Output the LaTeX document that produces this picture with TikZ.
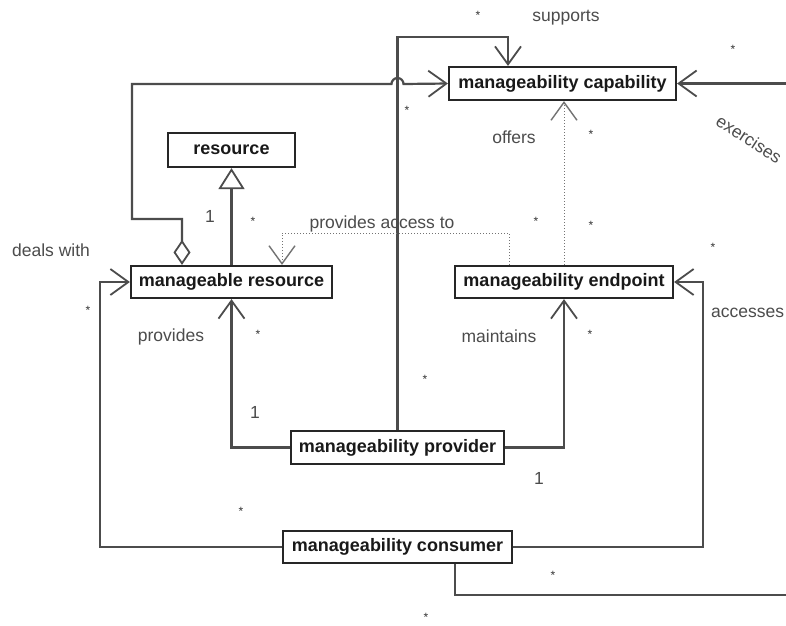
\documentclass[tikz,border=0pt]{standalone}
\usepackage{fontspec}
\setmainfont{Liberation Sans}
\usetikzlibrary{arrows.meta}
\begin{document}
\begin{tikzpicture}[x=1pt,y=-1pt,
  cls/.style={draw=black!85, line width=2.2pt, fill=white, inner sep=0pt,
    font=\fontsize{18}{21}\selectfont\bfseries, text=black!90},
  lbl/.style={font=\fontsize{17.5}{20}\selectfont, text=black!70, inner sep=0pt},
  mult/.style={font=\fontsize{12}{13}\selectfont, text=black!80, inner sep=0pt},
  conn/.style={draw=black!70, line width=2.2pt},
  dots/.style={draw=black!55, line width=1pt, dotted},
  vee/.style={-{Straight Barb[length=18pt,width=26pt,line width=1.8pt]}},
]
\useasboundingbox (0,0) rectangle (786,625);
\fill[white] (0,0) rectangle (786,625);
\clip (0,0) rectangle (786,625);

% classes
\node[cls, minimum width=227pt, minimum height=33pt] (cap) at (562.5,83.5) {manageability capability};
\node[cls, minimum width=127pt, minimum height=34pt] (res) at (231.5,150) {resource};
\node[cls, minimum width=201pt, minimum height=32pt] (mr) at (231.5,282) {manageable resource};
\node[cls, minimum width=218pt, minimum height=32pt] (ep) at (564,282) {manageability endpoint};
\node[cls, minimum width=213pt, minimum height=33pt] (prov) at (397.5,447.5) {manageability provider};
\node[cls, minimum width=229pt, minimum height=32pt] (cons) at (397.5,547) {manageability consumer};

% helper coordinates
\coordinate (s1) at (397.5,37);
\coordinate (d1) at (182,219);
\coordinate (d2) at (132,84);
\coordinate (hopL) at (391.5,84);
\coordinate (pa) at (509,233);
\coordinate (cl) at (100,547);
\coordinate (cr) at (703,547);
\coordinate (ex1) at (455,595);
\coordinate (ex2) at (800,595);
\coordinate (ex3) at (800,83.5);

% supports
\draw[conn, vee] (prov.north) -- (s1) -| ([xshift=-54.5pt]cap.north);
% deals with (aggregation)
\draw[conn, {Diamond[open,length=25pt,width=17pt,line width=1.8pt]}-{Straight Barb[length=18pt,width=26pt,line width=1.8pt]}]
  ([xshift=-49.5pt]mr.north) |- (d1) -| (d2) -- (hopL) arc (180:360:6) -- (cap.west);
% generalization
\draw[conn, -{Triangle[open,length=21pt,width=26pt,line width=1.8pt]}] (mr.north) -- (res.south);
% provides access to
\draw[dots, -{Straight Barb[length=18pt,width=26pt,line width=1.4pt]}]
  ([xshift=-55pt]ep.north) |- (pa) -| ([xshift=50.5pt]mr.north);
% offers
\draw[dots, -{Straight Barb[length=18pt,width=26pt,line width=1.4pt]}]
  (ep.north) -- (ep.north |- cap.south);
% provides
\draw[conn, vee] (prov.west) -| (mr.south);
% maintains
\draw[conn, vee] (prov.east) -| (ep.south);
% consumer -> manageable resource
\draw[conn, vee] (cons.west) -- (cl) |- (mr.west);
% accesses
\draw[conn, vee] (cons.east) -- (cr) |- (ep.east);
% exercises
\draw[conn, vee] (cons.south -| ex1) -- (ex1) -- (ex2) -- (ex3) -- (cap.east);

% labels
\node[lbl] (l1) at (566,18) {supports};
\node[lbl] (l2) at (514,137) {offers};
\node[lbl, rotate=-33] (l3) at (749,139) {exercises};
\node[lbl] (l4) at (51,250) {deals with};
\node[lbl] (l5) at (382,224) {provides access to};
\node[lbl] (l6) at (171,337) {provides};
\node[lbl] (l7) at (499,336) {maintains};
\node[lbl, anchor=west] (l8) at (711,313) {accesses};
\node[lbl] (m1) at (210,216) {1};
\node[lbl] (m2) at (255,412) {1};
\node[lbl] (m3) at (539,478) {1};

% multiplicities *
\foreach \p [count=\i] in {(478,15),(733,49),(407,110),(591,134),(536,221),(591,225),
  (713,247),(253,221),(88,310),(258,334),(590,334),(425,379),(241,511),(553,575),(426,617)}
  \node[mult] (st\i) at \p {*};
\end{tikzpicture}
\end{document}
